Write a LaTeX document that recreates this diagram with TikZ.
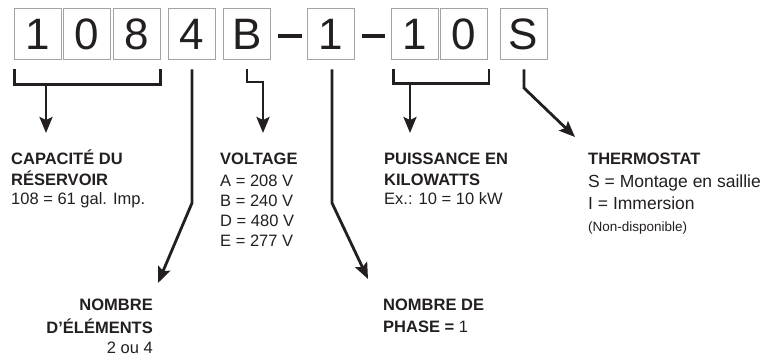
\documentclass[tikz,border=0pt]{standalone}
\usepackage{fontspec}
\setmainfont{Liberation Sans}
\usetikzlibrary{arrows.meta,calc}
\definecolor{ink}{HTML}{231F20}
\definecolor{boxline}{HTML}{A3A3A3}
\tikzset{
  digit/.style={draw=boxline, line width=1pt, minimum width=47pt, minimum height=51pt,
                inner sep=0pt, text=ink, font=\fontsize{44}{44}\selectfont},
  lead/.style={draw=ink, line width=2.8pt},
  leadtip/.style={lead, -{Stealth[length=16pt, width=13pt, inset=3pt]}},
  dashbar/.style={draw=ink, line width=4.5pt},
  infotext/.style={inner sep=0pt, text=ink, align=left, anchor=base west,
                font=\fontsize{16.5}{20}\selectfont},
}

\begin{document}
\begin{tikzpicture}[x=1pt, y=-1pt]
    \useasboundingbox (0,0) rectangle (771,358);
    % code boxes
    \node[digit] (cap1) at (37.5,34.5) {1};
    \node[digit] (cap2) at (86.5,34.5) {0};
    \node[digit] (cap3) at (136.5,34.5) {8};
    \node[digit] (elem) at (191.5,34.5) {4};
    \node[digit] (volt) at (247,34.5) {B};
    \node[digit] (phas) at (330.5,34.5) {1};
    \node[digit] (kw1) at (414.5,34.5) {1};
    \node[digit] (kw2) at (463.5,34.5) {0};
    \node[digit] (therm) at (523.5,34.5) {S};
    \draw[dashbar] (278,36) -- (302,36);
    \draw[dashbar] (362,36) -- (385,36);

    % labels (base = last line)
    \node[infotext] (caplab) at (11,205) {\textbf{CAPACITÉ DU}\\\textbf{RÉSERVOIR}\\108 = 61 gal. Imp.};
    \node[infotext] (voltlab) at (220,247) {\textbf{VOLTAGE}\\[2pt]A = 208 V\\B = 240 V\\D = 480 V\\E = 277 V};
    \node[infotext] (kwlab) at (384,205) {\textbf{PUISSANCE EN}\\\textbf{KILOWATTS}\\Ex.: 10 = 10 kW};
    \node[infotext] (thermlab) at (588,232) {\textbf{THERMOSTAT}\\[3pt]{\fontsize{17.5}{20}\selectfont S = Montage en saillie}\\[2pt]{\fontsize{17.5}{20}\selectfont I = Immersion}\\[2pt]{\fontsize{13.5}{16}\selectfont (Non-disponible)}};
    \node[infotext, align=right, anchor=base east] (elemlab) at (153,353) {\textbf{NOMBRE}\\[3pt]\textbf{D’ÉLÉMENTS}\\2 ou 4};
    \node[infotext] (phaslab) at (383,332) {\textbf{NOMBRE DE}\\[2pt]\textbf{PHASE =} 1};

    % connectors
    \coordinate (capL) at ($(cap1.south west)+(1,9)$);
    \coordinate (capR) at ($(cap3.south east)+(0,9)$);
    \draw[lead] (capL) -- ++(0,15) -| (capR);
    \draw[leadtip] (46,84) -- (46,133);

    \coordinate (elemtip) at (158,283);
    \draw[leadtip] ($(elem.south)+(0.5,9)$) -- (192,203) -- (elemtip);

    \coordinate (volttip) at (263,133);
    \draw[leadtip] ($(volt.south)+(0,9)$) -- (247,82) -| (volttip);

    \coordinate (phastip) at (368,279);
    \draw[leadtip] ($(phas.south)+(1.5,9)$) -- (332,203) -- (phastip);

    \coordinate (kwL) at ($(kw1.south west)+(3,9)$);
    \coordinate (kwR) at ($(kw2.south east)+(1.5,9)$);
    \draw[lead] (kwL) -- ++(0,14) -| (kwR);
    \draw[leadtip] (410,83) -- (410,133);

    \coordinate (thermtip) at (575,137);
    \draw[leadtip] ($(therm.south)+(0.5,9)$) -- (524,88) -- (thermtip);
\end{tikzpicture}
\end{document}
